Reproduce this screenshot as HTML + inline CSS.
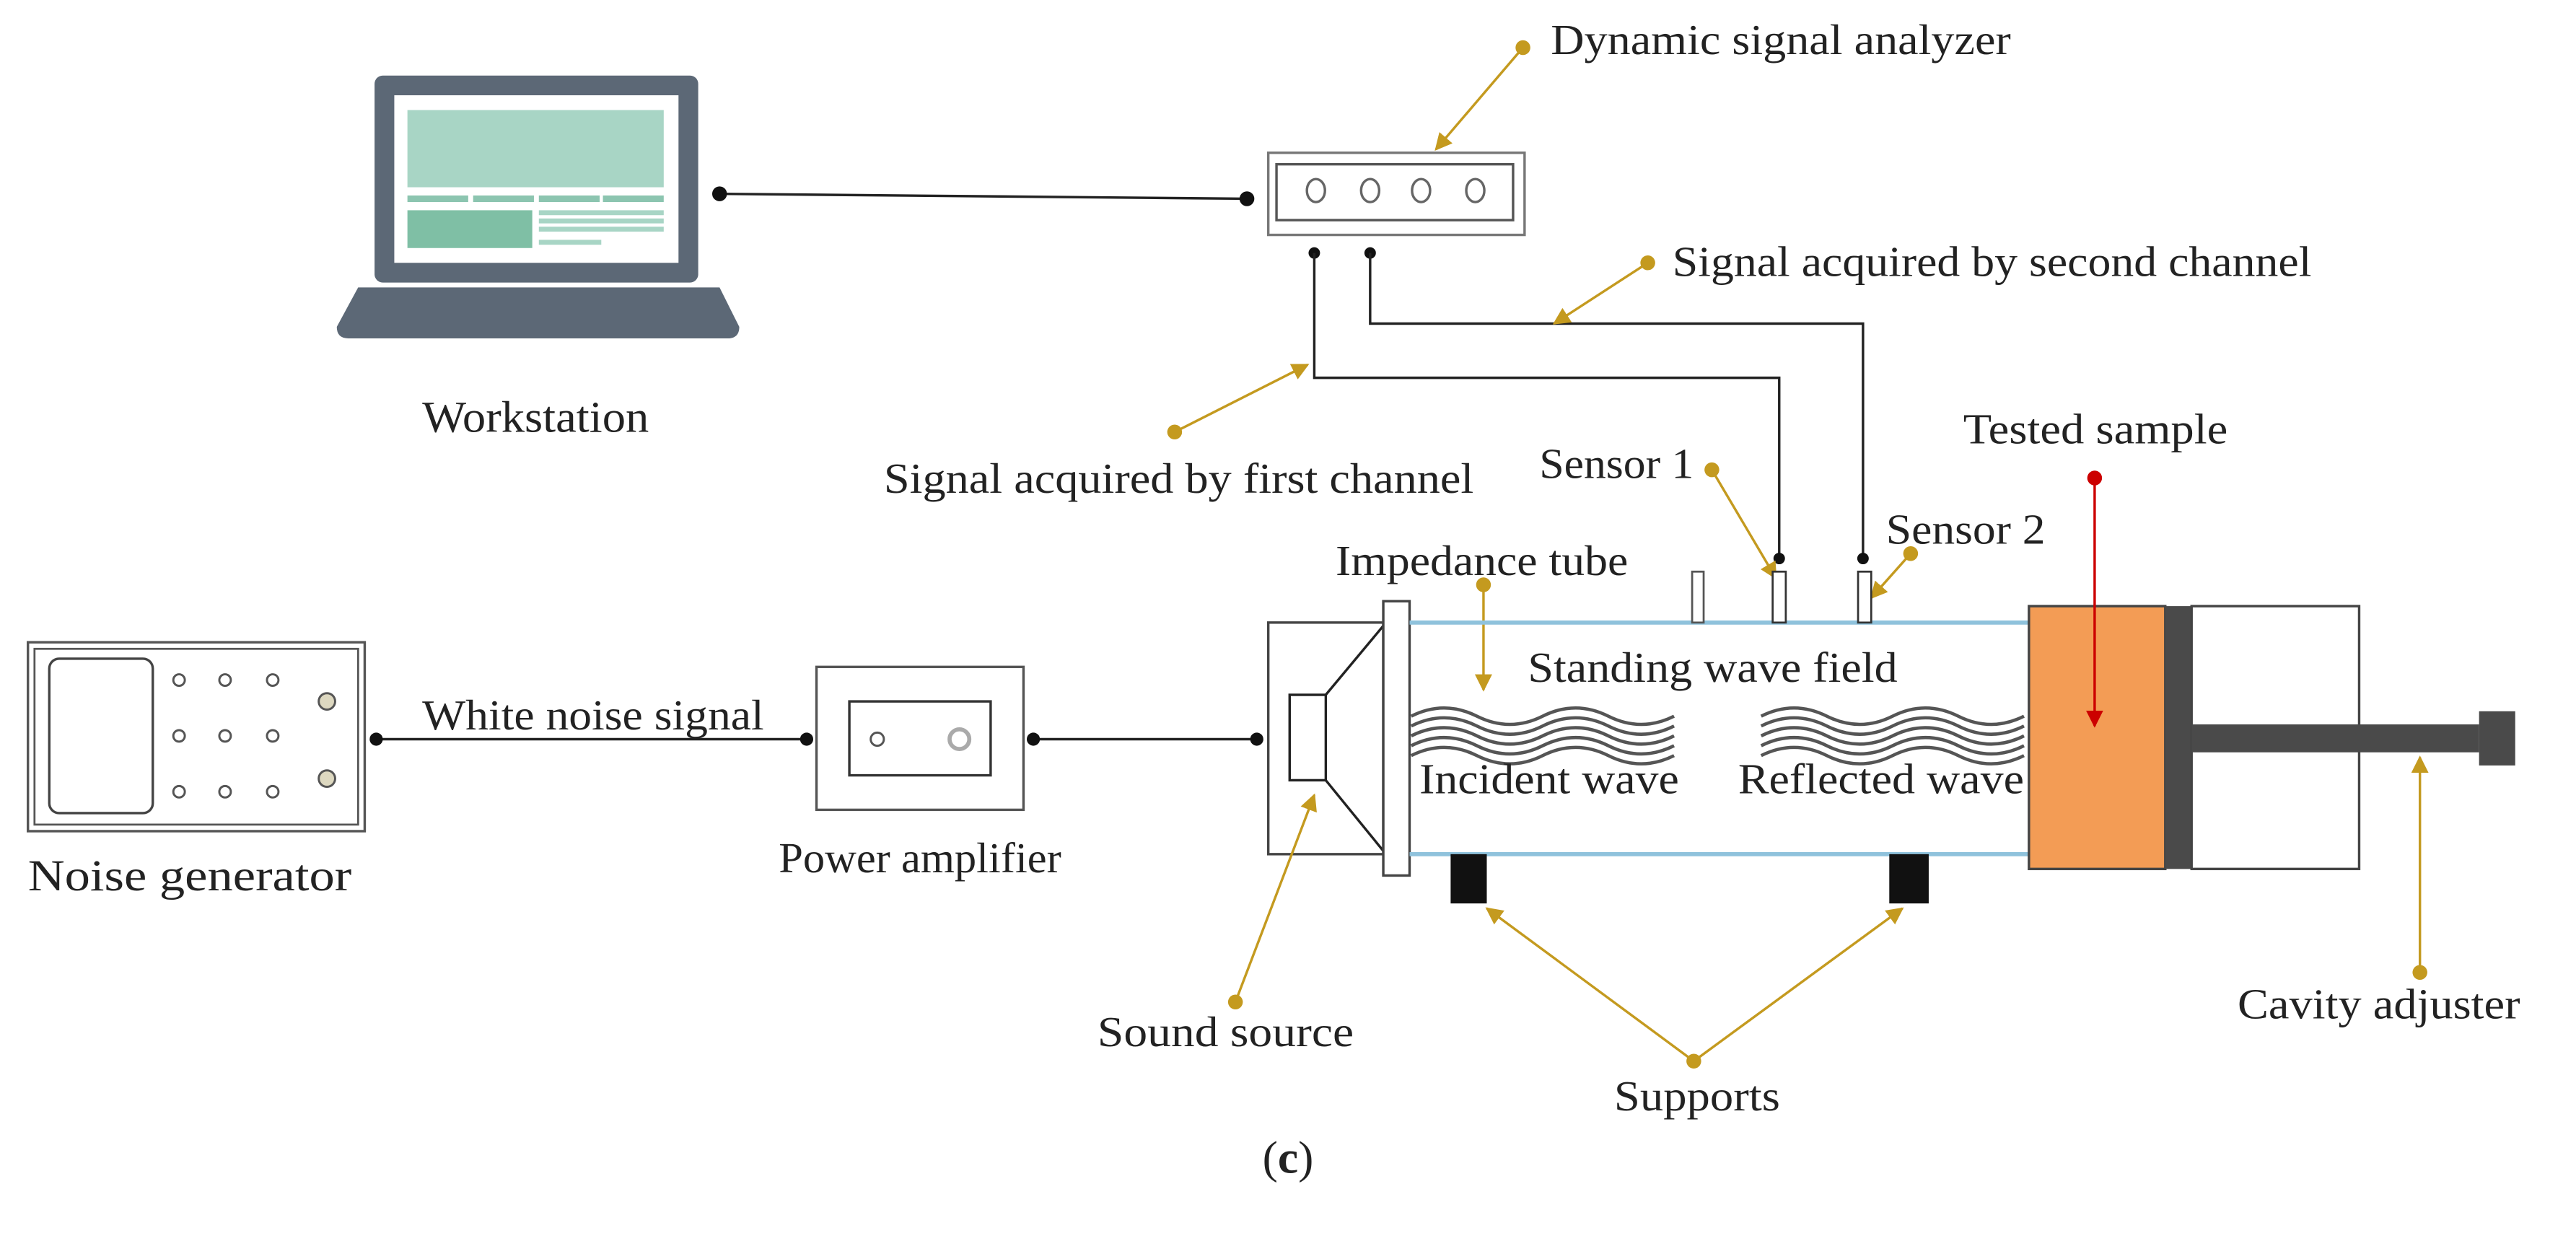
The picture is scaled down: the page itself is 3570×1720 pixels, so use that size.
<!DOCTYPE html>
<html><head><meta charset="utf-8"><style>
html,body{margin:0;padding:0;background:#fff;}
svg{display:block;}
text{font-family:"Liberation Serif",serif;fill:#222;}
</style></head><body>
<svg width="3570" height="1720" viewBox="0 0 1568 755.5" preserveAspectRatio="none" xmlns="http://www.w3.org/2000/svg">
<defs>
<marker id="ga" viewBox="0 0 10 10" refX="9" refY="5" markerWidth="7" markerHeight="7" orient="auto"><path d="M0,0 L10,5 L0,10 z" fill="#c49a1f"/></marker>
<marker id="ra" viewBox="0 0 10 10" refX="9" refY="5" markerWidth="7" markerHeight="7" orient="auto"><path d="M0,0 L10,5 L0,10 z" fill="#c00"/></marker>
</defs>
<rect width="1568" height="756" fill="#fff"/>
<!-- Laptop -->
<rect x="228" y="46" width="197" height="126" rx="5" fill="#5c6876"/>
<rect x="240" y="58" width="173" height="102" fill="#fff"/>
<rect x="248" y="67" width="156" height="47" fill="#a8d5c5"/>
<rect x="248" y="119" width="37" height="4" fill="#8cc5b0"/><rect x="288" y="119" width="37" height="4" fill="#8cc5b0"/><rect x="328" y="119" width="37" height="4" fill="#8cc5b0"/><rect x="367" y="119" width="37" height="4" fill="#8cc5b0"/>
<rect x="248" y="128" width="76" height="23" fill="#7fbfa5"/>
<rect x="328" y="128" width="76" height="3" fill="#a8d5c5"/><rect x="328" y="133" width="76" height="3" fill="#a8d5c5"/><rect x="328" y="138" width="76" height="3" fill="#a8d5c5"/><rect x="328" y="146" width="38" height="3" fill="#a8d5c5"/>
<path d="M218,175 L438,175 L450,199 Q450,206 443,206 L212,206 Q205,206 205,199 Z" fill="#5c6876"/>
<text x="326" y="263" font-size="27" text-anchor="middle" textLength="138" lengthAdjust="spacingAndGlyphs">Workstation</text>
<!-- laptop to analyzer -->
<line x1="438" y1="118" x2="759" y2="121" stroke="#222" stroke-width="1.5"/>
<circle cx="438" cy="118" r="4.5" fill="#111"/><circle cx="759" cy="121" r="4.5" fill="#111"/>
<!-- Analyzer -->
<rect x="772" y="93" width="156" height="50" fill="#fff" stroke="#777" stroke-width="1.5"/>
<rect x="777" y="100" width="144" height="34" fill="none" stroke="#555" stroke-width="1.5"/>
<g fill="none" stroke="#666" stroke-width="1.5"><ellipse cx="801" cy="116" rx="5.5" ry="7"/><ellipse cx="834" cy="116" rx="5.5" ry="7"/><ellipse cx="865" cy="116" rx="5.5" ry="7"/><ellipse cx="898" cy="116" rx="5.5" ry="7"/></g>
<circle cx="800" cy="154" r="3.5" fill="#111"/><circle cx="834" cy="154" r="3.5" fill="#111"/>
<polyline points="800,154 800,230 1083,230 1083,339" fill="none" stroke="#222" stroke-width="1.5"/>
<polyline points="834,154 834,197 1134,197 1134,339" fill="none" stroke="#222" stroke-width="1.5"/>
<circle cx="1083" cy="340" r="3.5" fill="#111"/><circle cx="1134" cy="340" r="3.5" fill="#111"/>
<!-- labels top -->
<line x1="927" y1="29" x2="874" y2="91" stroke="#c49a1f" stroke-width="1.5" marker-end="url(#ga)"/>
<circle cx="927" cy="29" r="4.5" fill="#c49a1f"/>
<text x="944" y="33" font-size="26" textLength="280" lengthAdjust="spacingAndGlyphs">Dynamic signal analyzer</text>
<line x1="1003" y1="160" x2="946" y2="197" stroke="#c49a1f" stroke-width="1.5" marker-end="url(#ga)"/>
<circle cx="1003" cy="160" r="4.5" fill="#c49a1f"/>
<text x="1018" y="168" font-size="26" textLength="389" lengthAdjust="spacingAndGlyphs">Signal acquired by second channel</text>
<line x1="715" y1="263" x2="796" y2="222" stroke="#c49a1f" stroke-width="1.5" marker-end="url(#ga)"/>
<circle cx="715" cy="263" r="4.5" fill="#c49a1f"/>
<text x="538" y="300" font-size="26" textLength="359" lengthAdjust="spacingAndGlyphs">Signal acquired by first channel</text>
<text x="937" y="291" font-size="26" textLength="94" lengthAdjust="spacingAndGlyphs">Sensor 1</text>
<line x1="1042" y1="286" x2="1081" y2="352" stroke="#c49a1f" stroke-width="1.5" marker-end="url(#ga)"/>
<circle cx="1042" cy="286" r="4.5" fill="#c49a1f"/>
<text x="1195" y="270" font-size="26" textLength="161" lengthAdjust="spacingAndGlyphs">Tested sample</text>
<circle cx="1275" cy="291" r="4.5" fill="#c00"/>
<text x="1148" y="331" font-size="26" textLength="97" lengthAdjust="spacingAndGlyphs">Sensor 2</text>
<line x1="1163" y1="337" x2="1139" y2="364" stroke="#c49a1f" stroke-width="1.5" marker-end="url(#ga)"/>
<circle cx="1163" cy="337" r="4.5" fill="#c49a1f"/>
<text x="813" y="350" font-size="26" textLength="178" lengthAdjust="spacingAndGlyphs">Impedance tube</text>
<line x1="903" y1="356" x2="903" y2="420" stroke="#c49a1f" stroke-width="1.5" marker-end="url(#ga)"/>
<circle cx="903" cy="356" r="4.5" fill="#c49a1f"/>
<!-- Noise generator -->
<rect x="17" y="391" width="205" height="115" fill="#fff" stroke="#555" stroke-width="1.5"/>
<rect x="21" y="395" width="197" height="107" fill="none" stroke="#555" stroke-width="1.2"/>
<rect x="30" y="401" width="63" height="94" rx="6" fill="none" stroke="#444" stroke-width="1.5"/>
<g fill="none" stroke="#555" stroke-width="1.3">
<circle cx="109" cy="414" r="3.5"/><circle cx="137" cy="414" r="3.5"/><circle cx="166" cy="414" r="3.5"/>
<circle cx="109" cy="448" r="3.5"/><circle cx="137" cy="448" r="3.5"/><circle cx="166" cy="448" r="3.5"/>
<circle cx="109" cy="482" r="3.5"/><circle cx="137" cy="482" r="3.5"/><circle cx="166" cy="482" r="3.5"/>
</g>
<circle cx="199" cy="427" r="5" fill="#ddd8c0" stroke="#555" stroke-width="1.3"/>
<circle cx="199" cy="474" r="5" fill="#ddd8c0" stroke="#555" stroke-width="1.3"/>
<text x="17" y="542" font-size="27" textLength="197" lengthAdjust="spacingAndGlyphs">Noise generator</text>
<line x1="229" y1="450" x2="491" y2="450" stroke="#222" stroke-width="1.5"/>
<circle cx="229" cy="450" r="4" fill="#111"/><circle cx="491" cy="450" r="4" fill="#111"/>
<text x="257" y="444" font-size="26" textLength="208" lengthAdjust="spacingAndGlyphs">White noise signal</text>
<!-- Power amplifier -->
<rect x="497" y="406" width="126" height="87" fill="#fff" stroke="#555" stroke-width="1.5"/>
<rect x="517" y="427" width="86" height="45" fill="none" stroke="#333" stroke-width="1.5"/>
<circle cx="534" cy="450" r="4" fill="none" stroke="#555" stroke-width="1.3"/>
<circle cx="584" cy="450" r="6" fill="none" stroke="#aaa" stroke-width="2.5"/>
<text x="560" y="531" font-size="26" text-anchor="middle" textLength="172" lengthAdjust="spacingAndGlyphs">Power amplifier</text>
<line x1="629" y1="450" x2="765" y2="450" stroke="#222" stroke-width="1.5"/>
<circle cx="629" cy="450" r="4" fill="#111"/><circle cx="765" cy="450" r="4" fill="#111"/>
<!-- Sound source -->
<rect x="772" y="379" width="70" height="141" fill="#fff" stroke="#444" stroke-width="1.5"/>
<rect x="785" y="423" width="22" height="52" fill="#fff" stroke="#222" stroke-width="1.5"/>
<line x1="807" y1="423" x2="842" y2="381" stroke="#222" stroke-width="1.5"/>
<line x1="807" y1="475" x2="842" y2="518" stroke="#222" stroke-width="1.5"/>
<rect x="842" y="366" width="16" height="167" fill="#fff" stroke="#444" stroke-width="1.5"/>
<!-- tube -->
<line x1="858" y1="379" x2="1235" y2="379" stroke="#8fc2dc" stroke-width="2.5"/>
<line x1="858" y1="520" x2="1235" y2="520" stroke="#8fc2dc" stroke-width="2.5"/>
<rect x="1030" y="348" width="7" height="31" fill="#fff" stroke="#555" stroke-width="1.2"/>
<rect x="1079" y="348" width="8" height="31" fill="#fff" stroke="#333" stroke-width="1.2"/>
<rect x="1131" y="348" width="8" height="31" fill="#fff" stroke="#333" stroke-width="1.2"/>
<rect x="883" y="520" width="22" height="30" fill="#111"/>
<rect x="1150" y="520" width="24" height="30" fill="#111"/>
<!-- waves -->
<g fill="none" stroke="#555" stroke-width="2">
<path d="M859,436 q20,-10 40,0 t40,0 t40,0 t40,0"/><path d="M859,442 q20,-10 40,0 t40,0 t40,0 t40,0"/><path d="M859,448 q20,-10 40,0 t40,0 t40,0 t40,0"/><path d="M859,454 q20,-10 40,0 t40,0 t40,0 t40,0"/><path d="M859,460 q20,-10 40,0 t40,0 t40,0 t40,0"/>
<path d="M1072,436 q20,-10 40,0 t40,0 t40,0 t40,0"/><path d="M1072,442 q20,-10 40,0 t40,0 t40,0 t40,0"/><path d="M1072,448 q20,-10 40,0 t40,0 t40,0 t40,0"/><path d="M1072,454 q20,-10 40,0 t40,0 t40,0 t40,0"/><path d="M1072,460 q20,-10 40,0 t40,0 t40,0 t40,0"/>
</g>
<text x="930" y="415" font-size="26" textLength="225" lengthAdjust="spacingAndGlyphs">Standing wave field</text>
<text x="864" y="483" font-size="26" textLength="158" lengthAdjust="spacingAndGlyphs">Incident wave</text>
<text x="1058" y="483" font-size="26" textLength="174" lengthAdjust="spacingAndGlyphs">Reflected wave</text>
<!-- sample & cavity -->
<rect x="1235" y="369" width="83" height="160" fill="#f39c55" stroke="#444" stroke-width="1.5"/>
<rect x="1318" y="369" width="16" height="160" fill="#4a4a4a"/>
<rect x="1334" y="369" width="102" height="160" fill="#fff" stroke="#444" stroke-width="1.5"/>
<rect x="1334" y="441" width="175" height="17" fill="#4a4a4a"/>
<rect x="1509" y="433" width="22" height="33" fill="#4a4a4a"/>
<line x1="1275" y1="291" x2="1275" y2="442" stroke="#c00" stroke-width="1.5" marker-end="url(#ra)"/>
<!-- bottom labels -->
<line x1="752" y1="610" x2="800" y2="484" stroke="#c49a1f" stroke-width="1.5" marker-end="url(#ga)"/>
<circle cx="752" cy="610" r="4.5" fill="#c49a1f"/>
<text x="746" y="637" font-size="26" text-anchor="middle" textLength="156" lengthAdjust="spacingAndGlyphs">Sound source</text>
<line x1="1031" y1="646" x2="905" y2="553" stroke="#c49a1f" stroke-width="1.5" marker-end="url(#ga)"/>
<line x1="1031" y1="646" x2="1158" y2="553" stroke="#c49a1f" stroke-width="1.5" marker-end="url(#ga)"/>
<circle cx="1031" cy="646" r="4.5" fill="#c49a1f"/>
<text x="1033" y="676" font-size="26" text-anchor="middle" textLength="101" lengthAdjust="spacingAndGlyphs">Supports</text>
<line x1="1473" y1="592" x2="1473" y2="461" stroke="#c49a1f" stroke-width="1.5" marker-end="url(#ga)"/>
<circle cx="1473" cy="592" r="4.5" fill="#c49a1f"/>
<text x="1448" y="620" font-size="26" text-anchor="middle" textLength="172" lengthAdjust="spacingAndGlyphs">Cavity adjuster</text>
<text x="784" y="714" font-size="28" text-anchor="middle">(<tspan font-weight="bold">c</tspan>)</text>
</svg>
</body></html>
